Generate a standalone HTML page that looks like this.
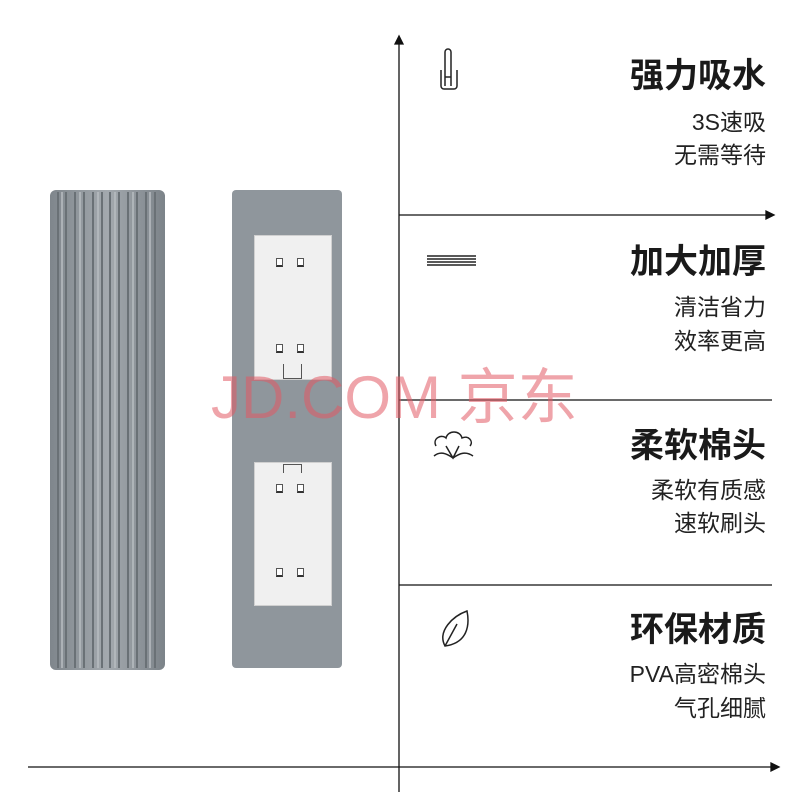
<!DOCTYPE html>
<html><head><meta charset="utf-8"><style>
body{margin:0;width:800px;height:800px;background:#fff;position:relative;overflow:hidden;font-family:"Liberation Sans","Noto Sans CJK SC",sans-serif}
.t{position:absolute;right:34px;font-size:34px;font-weight:bold;color:#1a1a1a;line-height:1}
.s{position:absolute;right:34px;font-size:23px;color:#222;line-height:1;text-align:right}
.p{position:absolute;left:254px;width:76px;background:#f0f0f0;border:1px solid #d0d0d0}
.c{position:absolute;width:7px;height:9px;border:1.5px solid #555;border-bottom:2.5px solid #333;background:#fff;box-sizing:border-box}
</style></head><body>
<svg width="800" height="800" style="position:absolute;left:0;top:0">
<defs><linearGradient id="g" x1="0" x2="1"><stop offset="0" stop-color="#7f868c"/><stop offset="0.5" stop-color="#a3a9ae"/><stop offset="1" stop-color="#7c8389"/></linearGradient></defs>
<rect x="50" y="190" width="115" height="480" rx="6" fill="url(#g)"/>
<g stroke="#6a7176" stroke-width="2">
<line x1="58" y1="192" x2="58" y2="668"/><line x1="66" y1="192" x2="66" y2="668"/><line x1="75" y1="192" x2="75" y2="668"/><line x1="84" y1="192" x2="84" y2="668"/><line x1="93" y1="192" x2="93" y2="668"/><line x1="102" y1="192" x2="102" y2="668"/><line x1="110" y1="192" x2="110" y2="668"/><line x1="119" y1="192" x2="119" y2="668"/><line x1="128" y1="192" x2="128" y2="668"/><line x1="137" y1="192" x2="137" y2="668"/><line x1="146" y1="192" x2="146" y2="668"/><line x1="155" y1="192" x2="155" y2="668"/></g>
<g stroke="#b8bdc1" stroke-width="1.5">
<line x1="62" y1="192" x2="62" y2="668"/><line x1="80" y1="192" x2="80" y2="668"/><line x1="98" y1="192" x2="98" y2="668"/><line x1="115" y1="192" x2="115" y2="668"/><line x1="133" y1="192" x2="133" y2="668"/><line x1="150" y1="192" x2="150" y2="668"/></g>
<rect x="232" y="190" width="110" height="478" rx="4" fill="#8f969c"/>
<g stroke="#111" stroke-width="1.3" fill="#111">
<line x1="399" y1="42" x2="399" y2="792"/><polygon points="399,36 395,44 403,44"/>
<line x1="399" y1="215" x2="768" y2="215"/><polygon points="774,215 766,211 766,219"/>
<line x1="399" y1="400" x2="772" y2="400"/>
<line x1="399" y1="585" x2="772" y2="585"/>
<line x1="28" y1="767" x2="772" y2="767"/><polygon points="779,767 771,763 771,771"/>
</g>
<g fill="none" stroke="#222" stroke-width="1.5">
<path d="M441 70 v16 a3 3 0 0 0 3 3 h10 a3 3 0 0 0 3-3 v-16"/><path d="M445 86 v-34 a3 3 0 0 1 6 0 v34"/><line x1="445" y1="77" x2="451" y2="77"/>
<line x1="427" y1="256" x2="476" y2="256"/><line x1="427" y1="259" x2="476" y2="259"/><line x1="427" y1="262" x2="476" y2="262"/><line x1="427" y1="265" x2="476" y2="265"/>
<path d="M436 446 c-4-8 6-12 10-8 c2-8 14-8 16 0 c6-3 12 3 8 8"/><path d="M434 456 c6-5 12-3 19 2 c7-5 13-7 20-2"/><path d="M446 446 l7 12 l6-12"/>
<path d="M445 646 c-8-15 8-30 22-35 c3 15 0 32-22 35z"/><path d="M445 646 l12-22"/>
</g>
</svg>
<div class="p" style="top:235px;height:143px"></div>
<div class="p" style="top:462px;height:142px"></div>
<div class="c" style="left:276px;top:258px"></div><div class="c" style="left:297px;top:258px"></div>
<div class="c" style="left:276px;top:344px"></div><div class="c" style="left:297px;top:344px"></div>
<div class="c" style="left:276px;top:484px"></div><div class="c" style="left:297px;top:484px"></div>
<div class="c" style="left:276px;top:568px"></div><div class="c" style="left:297px;top:568px"></div>
<div style="position:absolute;left:283px;top:364px;width:17px;height:14px;border:1px solid #555;border-top:none"></div>
<div style="position:absolute;left:283px;top:464px;width:17px;height:8px;border:1px solid #555;border-bottom:none"></div>
<div style="position:absolute;left:211px;top:368px;font-size:60px;color:rgba(226,90,100,0.55);letter-spacing:0px;line-height:1;white-space:nowrap">JD.COM 京东</div>
<div class="t" style="top:59px">强力吸水</div>
<div class="s" style="top:111px">3S速吸</div><div class="s" style="top:144px">无需等待</div>
<div class="t" style="top:245px">加大加厚</div>
<div class="s" style="top:296px">清洁省力</div><div class="s" style="top:330px">效率更高</div>
<div class="t" style="top:429px">柔软棉头</div>
<div class="s" style="top:479px">柔软有质感</div><div class="s" style="top:512px">速软刷头</div>
<div class="t" style="top:613px">环保材质</div>
<div class="s" style="top:663px">PVA高密棉头</div><div class="s" style="top:697px">气孔细腻</div>
</body></html>
